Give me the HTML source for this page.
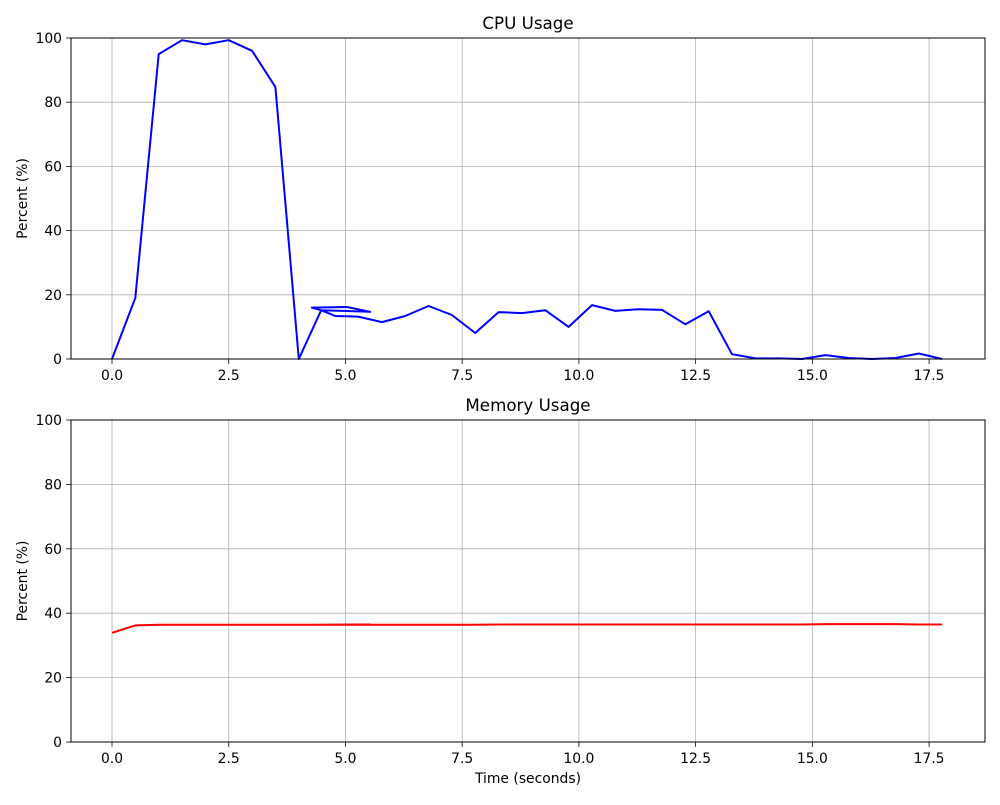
<!DOCTYPE html>
<html><head><meta charset="utf-8"><style>
body{margin:0;background:#fff}
svg text{font-family:"DejaVu Sans","Liberation Sans",sans-serif;fill:#000}
</style></head><body>
<svg id="c" width="1000" height="800" xmlns="http://www.w3.org/2000/svg"></svg>
<script>
const times=[0,0.5,1.0,1.5,2.0,2.5,3.0,3.5,4.0,4.48,5.53,5.03,4.28,4.48,4.78,5.27,5.78,6.28,6.78,7.28,7.78,8.28,8.78,9.28,9.78,10.28,10.78,11.28,11.78,12.28,12.78,13.28,13.78,14.28,14.78,15.28,15.78,16.28,16.78,17.28,17.78];
const cpu=[0,19,95,99.3,98,99.3,96,84.7,0,15.2,14.7,16.2,16,15.2,13.4,13.2,11.5,13.4,16.5,13.7,8.1,14.6,14.3,15.2,10,16.8,15,15.5,15.3,10.8,14.9,1.5,0.2,0.2,0,1.2,0.3,0,0.3,1.7,0];
const mem=[33.9,36.2,36.4,36.4,36.4,36.4,36.4,36.4,36.4,36.4,36.5,36.5,36.4,36.4,36.4,36.4,36.4,36.4,36.4,36.4,36.4,36.5,36.5,36.5,36.5,36.5,36.5,36.5,36.5,36.5,36.5,36.5,36.5,36.5,36.5,36.6,36.6,36.6,36.6,36.5,36.5];
const xTicks=[0,2.5,5,7.5,10,12.5,15,17.5];
const xTickLabels=["0.0","2.5","5.0","7.5","10.0","12.5","15.0","17.5"];
const yTicks=[0,20,40,60,80,100];
const svg=document.getElementById('c');
const NS='http://www.w3.org/2000/svg';
function mk(tag,attrs,parent){const e=document.createElementNS(NS,tag);for(const k in attrs)e.setAttribute(k,attrs[k]);(parent||svg).appendChild(e);return e;}
const L=71,R=985;
const sx=v=>112+v*46.69;
function panel(top,bottom,title,vals,color,name,showX){
  const sy=v=>bottom-(v/100)*(bottom-top);
  const g=mk('g',{});
  
  
  xTicks.forEach((t,i)=>{
    const x=sx(t);
    const gl=mk('line',{x1:x,x2:x,y1:top,y2:bottom,stroke:'#b0b0b0','stroke-width':0.8},g);
    
    
    mk('line',{x1:x,x2:x,y1:bottom,y2:bottom+4.9,stroke:'#000','stroke-width':0.8},g);
    const tx=mk('text',{x:x,y:bottom+21,'text-anchor':'middle','font-size':13.9},g);
    tx.textContent=xTickLabels[i];
    
    
  });
  yTicks.forEach(t=>{
    const y=sy(t);
    const gl=mk('line',{x1:L,x2:R,y1:y,y2:y,stroke:'#b0b0b0','stroke-width':0.8},g);
    
    
    mk('line',{x1:L-4.9,x2:L,y1:y,y2:y,stroke:'#000','stroke-width':0.8},g);
    const tx=mk('text',{x:L-9,y:y+5,'text-anchor':'end','font-size':13.9},g);
    tx.textContent=t;
    
    
  });
  const pts=times.map((t,i)=>sx(t).toFixed(1)+','+sy(vals[i]).toFixed(1)).join(' ');
  const pl=mk('polyline',{points:pts,fill:'none',stroke:color,'stroke-width':2,'stroke-linejoin':'round'},g);
  
  
  const fr=mk('rect',{x:L,y:top,width:R-L,height:bottom-top,fill:'none',stroke:'#000','stroke-width':1},g);
  
  
  const ti=mk('text',{x:(L+R)/2,y:top-9,'text-anchor':'middle','font-size':16.7},g);
  ti.textContent=title;
  
  
  const yl=mk('text',{x:0,y:0,'text-anchor':'middle','font-size':13.9,transform:`translate(27,${(top+bottom)/2}) rotate(-90)`},g);
  yl.textContent='Percent (%)';
  
  
  if(showX){
    const xl=mk('text',{x:(L+R)/2,y:bottom+41,'text-anchor':'middle','font-size':13.9},g);
    xl.textContent='Time (seconds)';
    
    
  }
}
panel(38,359,'CPU Usage',cpu,'#0000ff','cpu',false);
panel(420,742,'Memory Usage',mem,'#ff0000','memory',true);
</script>
</body></html>
